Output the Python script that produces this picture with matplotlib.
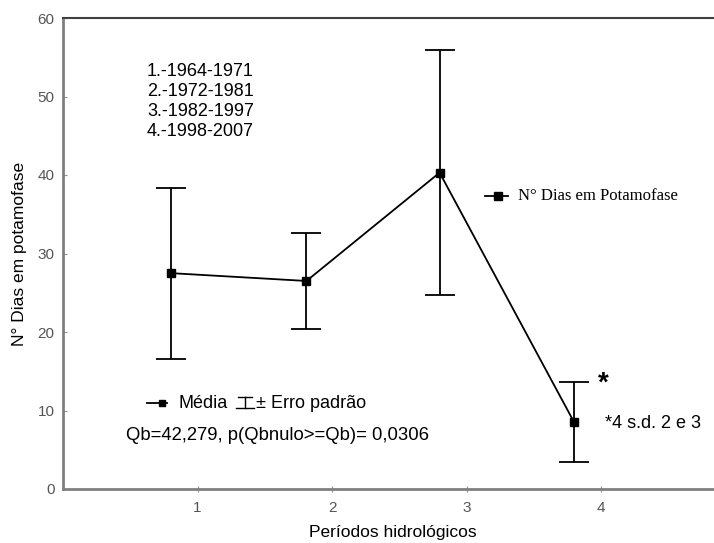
import matplotlib
matplotlib.use("Agg")
import matplotlib.pyplot as plt
from matplotlib.lines import Line2D

# medias e erro padrao por periodo hidrologico
periodos = [1, 2, 3, 4]
x_pos = [0.8, 1.81, 2.8, 3.8]
media = [27.5, 26.5, 40.3, 8.5]
erro = [10.9, 6.1, 15.6, 5.1]
y_ticks = [0, 10, 20, 30, 40, 50, 60]
legenda_periodos = ["1.-1964-1971", "2.-1972-1981", "3.-1982-1997", "4.-1998-2007"]

plt.rcParams['font.family'] = ['Liberation Sans', 'DejaVu Sans']

W, H = 714, 543
fig = plt.figure(figsize=(W / 100, H / 100), dpi=100)
ax = fig.add_axes([63 / W, 1 - 489 / H, 1 - 63 / W, (489 - 18) / H])


def px(x, y):
    # pixel position -> figure fraction
    return x / W, 1 - y / H


ax.errorbar(x_pos, media, yerr=erro, fmt='s-', color='k', lw=1.3, ms=5.5,
            elinewidth=1.3, capsize=11, capthick=1.3)

ax.set_xlim(0, 4.84)
ax.set_ylim(0, 60)
ax.set_xticks(periodos)
ax.set_yticks(y_ticks)

ax.spines['right'].set_visible(False)
for s in ('left', 'bottom'):
    ax.spines[s].set_color('#808080')
    ax.spines[s].set_linewidth(2)
ax.spines['top'].set_color('#404040')
ax.spines['top'].set_linewidth(1.5)

ax.tick_params(axis='y', direction='in', length=3, color='#909090',
               labelcolor='#555555', labelsize=11, pad=6)
ax.tick_params(axis='x', direction='inout', length=5, color='#909090',
               labelcolor='#555555', labelsize=11, pad=6)

ax.set_xlabel("Períodos hidrológicos", fontsize=12.5)
ax.xaxis.set_label_coords(0.507, -0.077)
ax.set_ylabel("N° Dias em potamofase", fontsize=12.5)
ax.yaxis.set_label_coords(-0.056, 0.5)

# lista dos periodos
for i, txt in enumerate(legenda_periodos):
    fig.text(*px(147, 72 + 20 * i), txt, fontsize=13, va='center', ha='left')

# legenda da serie
fig.add_artist(Line2D([485 / W, 508 / W], [1 - 196 / H] * 2, color='k', lw=1.3))
fig.add_artist(Line2D([498 / W], [1 - 196 / H], marker='s', ms=5.5, color='k'))
fig.text(*px(518, 196), "N° Dias em Potamofase", fontsize=12,
         family=['Liberation Serif', 'DejaVu Serif'], va='center', ha='left')

# legenda media / erro padrao
fig.add_artist(Line2D([147 / W, 167 / W], [1 - 403 / H] * 2, color='k', lw=1.3))
fig.add_artist(Line2D([162 / W], [1 - 403 / H], marker='s', ms=5, color='k'))
fig.text(*px(178, 403), "Média", fontsize=13, va='center', ha='left')
fig.add_artist(Line2D([238 / W, 252 / W], [1 - 397 / H] * 2, color='k', lw=1))
fig.add_artist(Line2D([245 / W, 245 / W], [1 - 397 / H, 1 - 408 / H], color='k', lw=1))
fig.add_artist(Line2D([236 / W, 254 / W], [1 - 408 / H] * 2, color='k', lw=1))
fig.text(*px(256, 403), "± Erro padrão", fontsize=13, va='center', ha='left')

fig.text(*px(126, 436), "Qb=42,279, p(Qbnulo>=Qb)= 0,0306", fontsize=13.3,
         va='center', ha='left')

fig.text(*px(598, 384), "*", fontsize=20, fontweight='bold', va='center', ha='left')
fig.text(*px(605, 424), "*4 s.d. 2 e 3", fontsize=13, va='center', ha='left')

fig.savefig("out.png", dpi=100)
